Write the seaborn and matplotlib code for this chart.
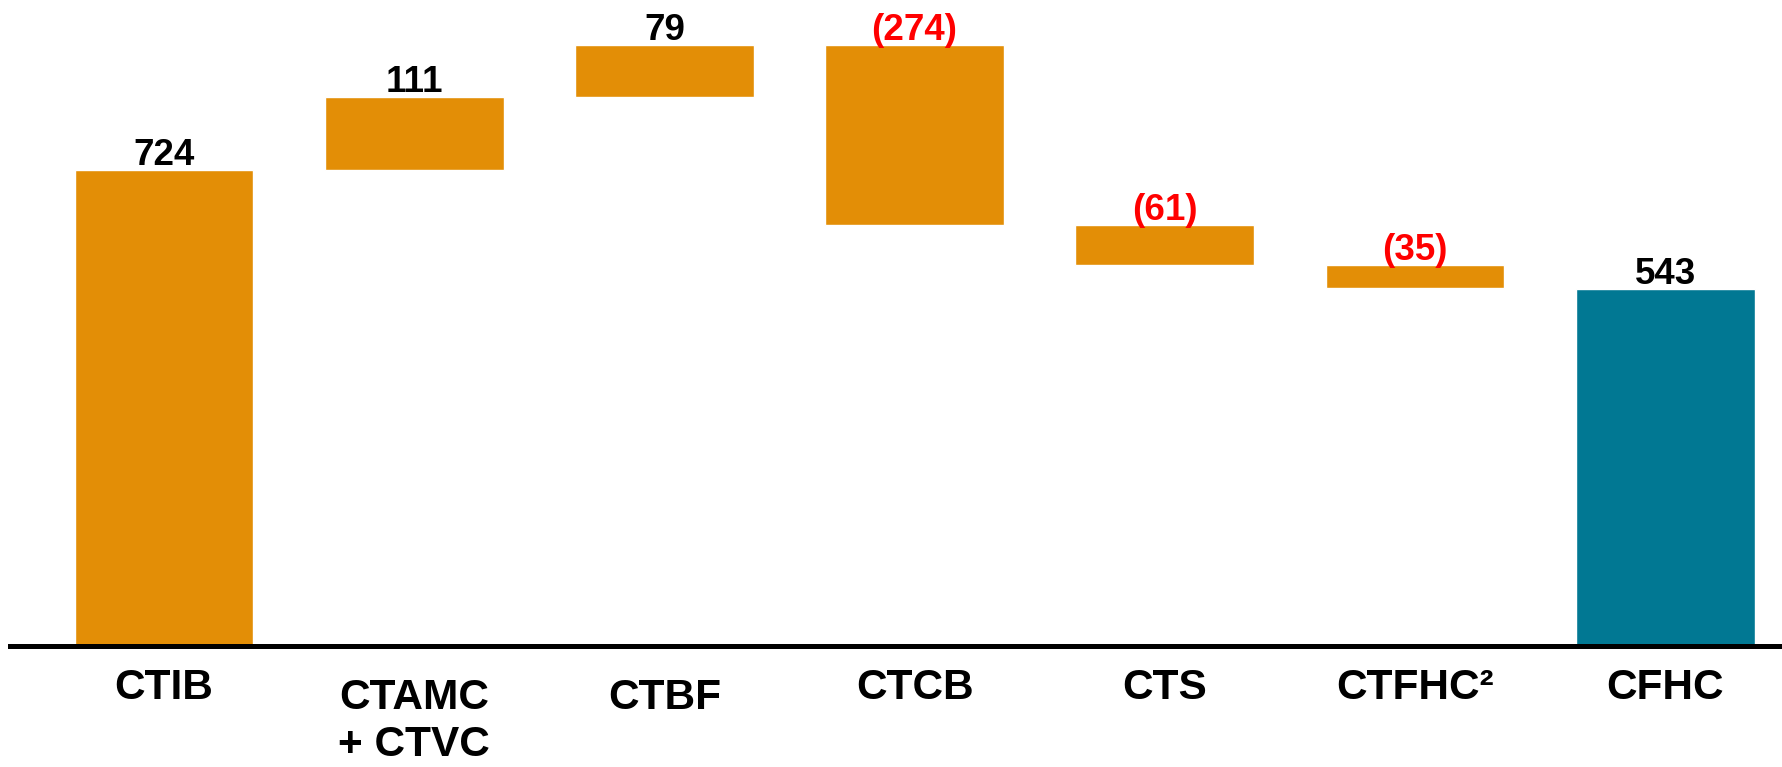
import numpy as np
import seaborn as sns
import matplotlib.pyplot as plt
from matplotlib.transforms import ScaledTranslation

categories = ["CTIB", "CTAMC\n+ CTVC", "CTBF", "CTCB", "CTS", "CTFHC\u00b2", "CFHC"]
values = [724, 111, 79, -274, -61, -35, 543]
is_total = [True, False, False, False, False, False, True]

orange = "#E38E06"
teal = "#017893"

sns.set_style("white")
plt.rcParams["font.family"] = ["Liberation Sans", "DejaVu Sans"]

# waterfall: bar lengths and bottoms from the running total
heights, bottoms, tops = [], [], []
running = 0
for v, tot in zip(values, is_total):
    if tot:
        bottoms.append(0)
        heights.append(v)
        running = v
    else:
        bottoms.append(min(running, running + v))
        heights.append(abs(v))
        running += v
    tops.append(bottoms[-1] + heights[-1])

fig = plt.figure(figsize=(17.83, 7.67), dpi=100)
ax = fig.add_axes([10 / 1783, 121 / 767, 1 - 10 / 1783, 646 / 767])

sns.barplot(x=categories, y=heights, bottom=bottoms, color=orange, saturation=1,
            width=0.715, errorbar=None, ax=ax)
ax.patches[-1].set_facecolor(teal)

# value labels
for i, (v, top) in enumerate(zip(values, tops)):
    txt = f"({abs(v)})" if v < 0 else f"{v}"
    col = "#FF0000" if v < 0 else "black"
    ax.annotate(txt, (i, top), xytext=(0, 5), textcoords="offset pixels",
                ha="center", va="baseline", fontsize=26.5, fontweight="bold", color=col)

ax.set_xlim(-0.6155, 6.471)
ax.set_ylim(0, 982)
ax.set_yticks([])
ax.set_xlabel("")
ax.set_ylabel("")
sns.despine(ax=ax, left=True)
ax.spines["bottom"].set_linewidth(3.6)
ax.spines["bottom"].set_color("black")
ax.tick_params(axis="x", length=0, pad=15.5, colors="black")
for lab in ax.get_xticklabels():
    lab.set_fontsize(30.5)
    lab.set_fontweight("bold")
    lab.set_linespacing(1.24)
    if lab.get_text() in ("CTBF", "CTAMC\n+ CTVC"):
        lab.set_transform(lab.get_transform() + ScaledTranslation(0, -10 / 100, fig.dpi_scale_trans))

fig.savefig("out.png", dpi=100)
